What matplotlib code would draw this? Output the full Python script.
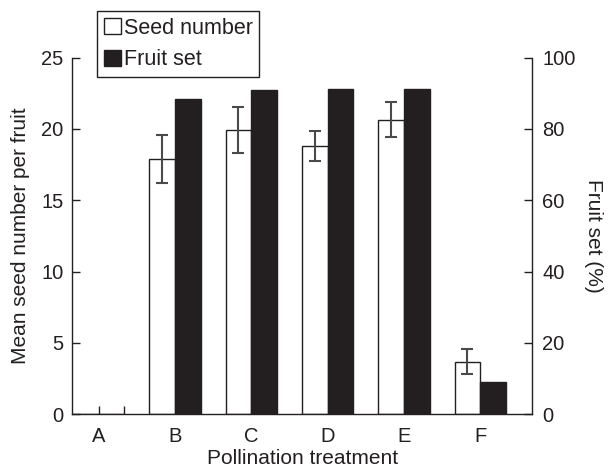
import matplotlib
matplotlib.use("Agg")
import matplotlib.pyplot as plt
import matplotlib.transforms as mtransforms
from matplotlib.patches import Patch
import numpy as np

plt.rcParams['font.family'] = ['Liberation Sans', 'DejaVu Sans']

treatments = ["A", "B", "C", "D", "E", "F"]
seed_mean = [0, 17.9, 19.9, 18.8, 20.65, 3.7]
seed_err = [0, 1.7, 1.6, 1.05, 1.2, 0.87]
fruit_set = [0, 88.5, 91.0, 91.3, 91.3, 9.0]

ink = "#231f20"
w = 0.338
x = np.arange(len(treatments))

fig = plt.figure(figsize=(6.10, 4.69), dpi=100)
ax = fig.add_axes([0.1185, 0.1166, 0.7535, 0.7607])
ax2 = ax.twinx()

ax.bar(x - w / 2, seed_mean, w, color="white", edgecolor=ink, linewidth=1.0, zorder=2)
ax.errorbar(x[1:] - w / 2, seed_mean[1:], yerr=seed_err[1:], fmt="none",
            ecolor="#4a4a4a", elinewidth=1.5, capsize=4, capthick=1.5, zorder=3)
ax2.bar(x + w / 2, fruit_set, w, color=ink, edgecolor=ink, linewidth=1.0, zorder=2)

# the zero-height bars of A still show their edges as short stubs
trans = mtransforms.blended_transform_factory(ax.transData, ax.transAxes)
for i, (s, f) in enumerate(zip(seed_mean, fruit_set)):
    if s == 0 and f == 0:
        ax.vlines([x[i], x[i] + w], 0, 0.022, transform=trans, color=ink, lw=1.0)

ax.set_xlim(-0.345, 5.675)
ax.set_ylim(0, 25)
ax2.set_ylim(0, 100)
ax.set_yticks([0, 5, 10, 15, 20, 25])
ax2.set_yticks([0, 20, 40, 60, 80, 100])
ax.set_xticks(x)
ax.set_xticklabels(treatments)

for a in (ax, ax2):
    a.spines["top"].set_visible(False)
    for s in a.spines.values():
        s.set_color(ink)
        s.set_linewidth(1.0)
ax.spines["right"].set_visible(False)
ax2.spines["left"].set_visible(False)
ax2.spines["bottom"].set_visible(False)

ax.tick_params(axis="y", direction="in", length=6, width=1.0, color=ink,
               labelsize=14.5, pad=6.5, labelcolor=ink)
ax2.tick_params(axis="y", direction="in", length=6, width=1.0, color=ink,
                labelsize=14.5, pad=7.5, labelcolor=ink)
ax.tick_params(axis="x", length=0, labelsize=14.5, pad=9, labelcolor=ink)

ax.set_xlabel("Pollination treatment", fontsize=15, color=ink, labelpad=2)
ax.set_ylabel("Mean seed number per fruit", fontsize=15, color=ink, labelpad=8)
ax2.set_ylabel("Fruit set (%)", fontsize=15, color=ink, rotation=270,
               labelpad=20)

handles = [Patch(facecolor="white", edgecolor=ink, linewidth=1.0),
           Patch(facecolor=ink, edgecolor=ink, linewidth=1.0)]
leg = ax2.legend(handles, ["Seed number", "Fruit set"], loc="upper left",
                 bbox_to_anchor=(0.054, 1.13), borderaxespad=0,
                 fontsize=15.5, frameon=True, fancybox=False, framealpha=1,
                 edgecolor=ink, handlelength=0.8, handleheight=0.8,
                 handletextpad=0.15, labelspacing=0.5, borderpad=0.3)
leg.get_frame().set_linewidth(1.0)
for t in leg.get_texts():
    t.set_color(ink)

fig.savefig("out.png", dpi=100)
